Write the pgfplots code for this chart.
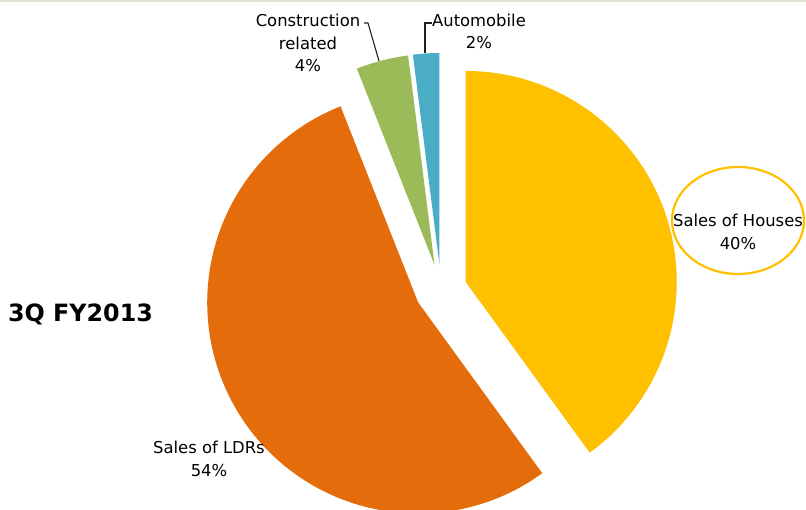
\documentclass[border=0pt]{standalone}
\usepackage{pgfplots}
\usepackage{pgfplotstable}
\pgfplotsset{compat=1.18}
\usepackage{fontspec}
\setmainfont{DejaVu Sans}

\definecolor{houses}{HTML}{FFC000}
\definecolor{ldrs}{HTML}{E46C0A}
\definecolor{constr}{HTML}{9BBB59}
\definecolor{cauto}{HTML}{4BACC6}
\definecolor{band}{HTML}{E5E1D4}
\definecolor{leader}{HTML}{202020}

% share of sales, percent, clockwise from 12 o'clock
\pgfplotstableread{
name value colour
Houses 40 houses
LDRs 54 ldrs
Construction 4 constr
Automobile 2 cauto
}\piedata

\newcommand{\lbl}{\fontsize{16.4}{22.5}\selectfont}

\begin{document}
\begin{tikzpicture}
\begin{axis}[
    x=1pt, y=1pt,
    xmin=0, xmax=806,
    ymin=0, ymax=510,
    scale only axis,
    hide axis,
    clip=true,
    ]
    \fill[white] (axis cs:0,0) rectangle (axis cs:806,510);
    \fill[band] (axis cs:0,508) rectangle (axis cs:806,510);
    % slices, each pulled out from the centre (441,220) by 26
    \pgfplotsextra{%
      \gdef\cum{0}%
      \pgfplotstablegetrowsof{\piedata}%
      \pgfmathtruncatemacro\last{\pgfplotsretval-1}%
      \foreach \i in {0,...,\last}{%
        \pgfplotstablegetelem{\i}{value}\of{\piedata}\let\val\pgfplotsretval
        \pgfplotstablegetelem{\i}{colour}\of{\piedata}\let\col\pgfplotsretval
        \pgfmathsetmacro\a{90-3.6*\cum}%
        \pgfmathsetmacro\b{90-3.6*(\cum+\val)}%
        \pgfmathsetmacro\m{(\a+\b)/2}%
        \pgfmathsetmacro\cx{441+26*cos(\m)}%
        \pgfmathsetmacro\cy{220+26*sin(\m)}%
        \fill[\col] (axis cs:\cx,\cy) -- ++(\a:211pt)
            arc[start angle=\a, end angle=\b, radius=211pt] -- cycle;
        \pgfmathsetmacro\cumnew{\cum+\val}%
        \xdef\cum{\cumnew}%
      }%
    }
    % leader lines
    \draw[leader, line width=1.1pt] (axis cs:364,487) -- (axis cs:368,487) -- (axis cs:379,449);
    \draw[leader, line width=1.1pt] (axis cs:432,487) -- (axis cs:425,487) -- (axis cs:425,457);
    % labels
    \draw[houses, line width=2.2pt] (axis cs:738,289.5) ellipse [x radius=66pt, y radius=53.5pt];
    \node[align=center, font=\lbl] at (axis cs:738,278) {Sales of Houses\\40\%};
    \node[align=center, font=\lbl] at (axis cs:209,51) {Sales of LDRs\\54\%};
    \node[align=center, font=\lbl] at (axis cs:308,467) {Construction\\related\\4\%};
    \node[align=center, font=\lbl] at (axis cs:479,478.5) {Automobile\\2\%};
    \node[font=\fontsize{23.8}{28}\selectfont\bfseries] at (axis cs:80.5,196) {3Q FY2013};
\end{axis}
\end{tikzpicture}
\end{document}
